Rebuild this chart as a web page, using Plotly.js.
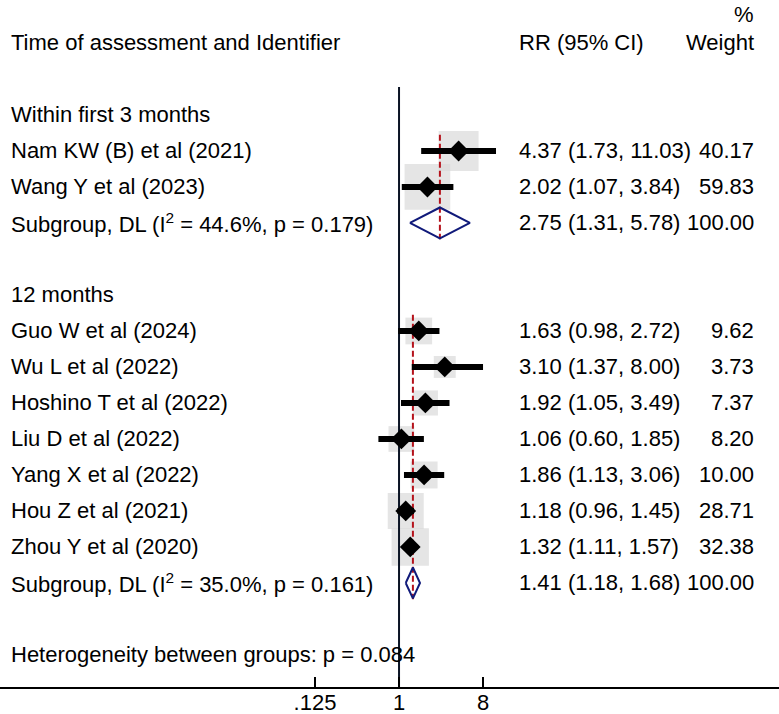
<!DOCTYPE html>
<html>
<head>
<meta charset="utf-8">
<script src="https://cdn.plot.ly/plotly-3.0.1.min.js"></script>
<style>html,body{margin:0;padding:0;background:#fff;}#chart{width:779px;height:714px;}</style>
</head>
<body>
<div id="chart"></div>
<script>
// ---------- data ----------
const groupTitles = ['Within first 3 months', '12 months'];

const g1Studies = ['Nam KW (B) et al (2021)', 'Wang Y et al (2023)'];
const g1RR = [4.37, 2.02];
const g1Lo = [1.73, 1.07];
const g1Hi = [11.03, 3.84];
const g1W = [40.17, 59.83];
const g1Pool = [2.75, 1.31, 5.78];
const g1I2 = '44.6%';
const g1P = '0.179';

const g2Studies = ['Guo W et al (2024)', 'Wu L et al (2022)', 'Hoshino T et al (2022)', 'Liu D et al (2022)', 'Yang X et al (2022)', 'Hou Z et al (2021)', 'Zhou Y et al (2020)'];
const g2RR = [1.63, 3.10, 1.92, 1.06, 1.86, 1.18, 1.32];
const g2Lo = [0.98, 1.37, 1.05, 0.60, 1.13, 0.96, 1.11];
const g2Hi = [2.72, 8.00, 3.49, 1.85, 3.06, 1.45, 1.57];
const g2W = [9.62, 3.73, 7.37, 8.20, 10.00, 28.71, 32.38];
const g2Pool = [1.41, 1.18, 1.68];
const g2I2 = '35.0%';
const g2P = '0.161';

const hetP = '0.084';
const tickVals = [0.125, 1, 8];
const tickText = ['.125', '1', '8'];

// ---------- build ----------
const FONT = 'Liberation Sans, Arial, sans-serif';
const groups = [
  {title: groupTitles[0], s: g1Studies, rr: g1RR, lo: g1Lo, hi: g1Hi, w: g1W, pool: g1Pool, i2: g1I2, p: g1P},
  {title: groupTitles[1], s: g2Studies, rr: g2RR, lo: g2Lo, hi: g2Hi, w: g2W, pool: g2Pool, i2: g2I2, p: g2P}
];

const ann = [];
function txt(x, y, t, anchor) {
  ann.push({xref: 'paper', yref: 'y', x: x, y: y, text: t, showarrow: false,
    xanchor: anchor || 'left', yanchor: 'middle', font: {family: FONT, size: 22, color: '#000'}});
}
const LX = 9 / 779, CX = 517 / 779, WX = 756 / 779;

txt(WX, -0.8, '%', 'right');
txt(LX, 0, 'Time of assessment and Identifier');
txt(CX, 0, 'RR (95% CI)');
txt(WX, 0, 'Weight', 'right');

const sqX = [], sqY = [], sqS = [];
const ciX = [], ciY = [];
const ptX = [], ptY = [];
const dmX = [], dmY = [];
const rdX = [], rdY = [];

let row = 2;
groups.forEach(g => {
  txt(LX, row, g.title);
  row += 1;
  const first = row;
  g.s.forEach((name, i) => {
    txt(LX, row, name);
    txt(CX, row, g.rr[i].toFixed(2) + ' (' + g.lo[i].toFixed(2) + ', ' + g.hi[i].toFixed(2) + ')');
    txt(WX, row, g.w[i].toFixed(2), 'right');
    sqX.push(g.rr[i]); sqY.push(row); sqS.push(14 + 4.1 * Math.sqrt(g.w[i]));
    ciX.push(g.lo[i], g.hi[i], null); ciY.push(row, row, null);
    ptX.push(g.rr[i]); ptY.push(row);
    row += 1;
  });
  txt(LX, row, 'Subgroup, DL (I<sup>2</sup> = ' + g.i2 + ', p = ' + g.p + ')');
  txt(CX, row, g.pool[0].toFixed(2) + ' (' + g.pool[1].toFixed(2) + ', ' + g.pool[2].toFixed(2) + ')');
  txt(WX, row, (100).toFixed(2), 'right');
  const h = 0.43;
  dmX.push(g.pool[1], g.pool[0], g.pool[2], g.pool[0], g.pool[1], null);
  dmY.push(row, row - h, row, row + h, row, null);
  rdX.push(g.pool[0], g.pool[0], null);
  rdY.push(first - 0.45, row + 0.45, null);
  row += 2;
});
txt(LX, row, 'Heterogeneity between groups: p = ' + hetP);
const bottomRow = 17.89;

const traces = [
  {type: 'scatter', mode: 'markers', x: sqX, y: sqY, hoverinfo: 'skip',
   marker: {symbol: 'square', size: sqS, color: '#dadada', line: {width: 0}}},
  {type: 'scatter', mode: 'lines', x: [1, 1], y: [1.22, bottomRow], hoverinfo: 'skip',
   line: {color: '#0b1424', width: 2}},
  {type: 'scatter', mode: 'lines', x: rdX, y: rdY, hoverinfo: 'skip',
   line: {color: '#b5121b', width: 2, dash: '6px,3px'}},
  {type: 'scatter', mode: 'lines', x: ciX, y: ciY, hoverinfo: 'skip',
   line: {color: '#000', width: 6}},
  {type: 'scatter', mode: 'markers', x: ptX, y: ptY, hoverinfo: 'skip',
   marker: {symbol: 'diamond', size: 16, color: '#000', line: {width: 0}}},
  {type: 'scatter', mode: 'lines', x: dmX, y: dmY, hoverinfo: 'skip',
   line: {color: '#101a7a', width: 2}}
];

const layout = {
  width: 779, height: 714,
  margin: {l: 0, r: 0, t: 0, b: 27, pad: 0},
  paper_bgcolor: '#fff', plot_bgcolor: '#fff',
  showlegend: false,
  xaxis: {type: 'log', range: [-4.29, 4.085], showgrid: false, zeroline: false,
    showline: true, linecolor: '#000', linewidth: 2,
    ticks: 'inside', ticklen: 10, tickwidth: 2, tickcolor: '#000',
    tickvals: tickVals, ticktext: tickText, ticklabelstandoff: -5,
    tickfont: {family: FONT, size: 22, color: '#000'}, fixedrange: true},
  yaxis: {range: [bottomRow, -1.194], visible: false, showgrid: false, zeroline: false, fixedrange: true},
  annotations: ann
};

Plotly.newPlot('chart', traces, layout, {staticPlot: true, displayModeBar: false});
</script>
</body>
</html>
